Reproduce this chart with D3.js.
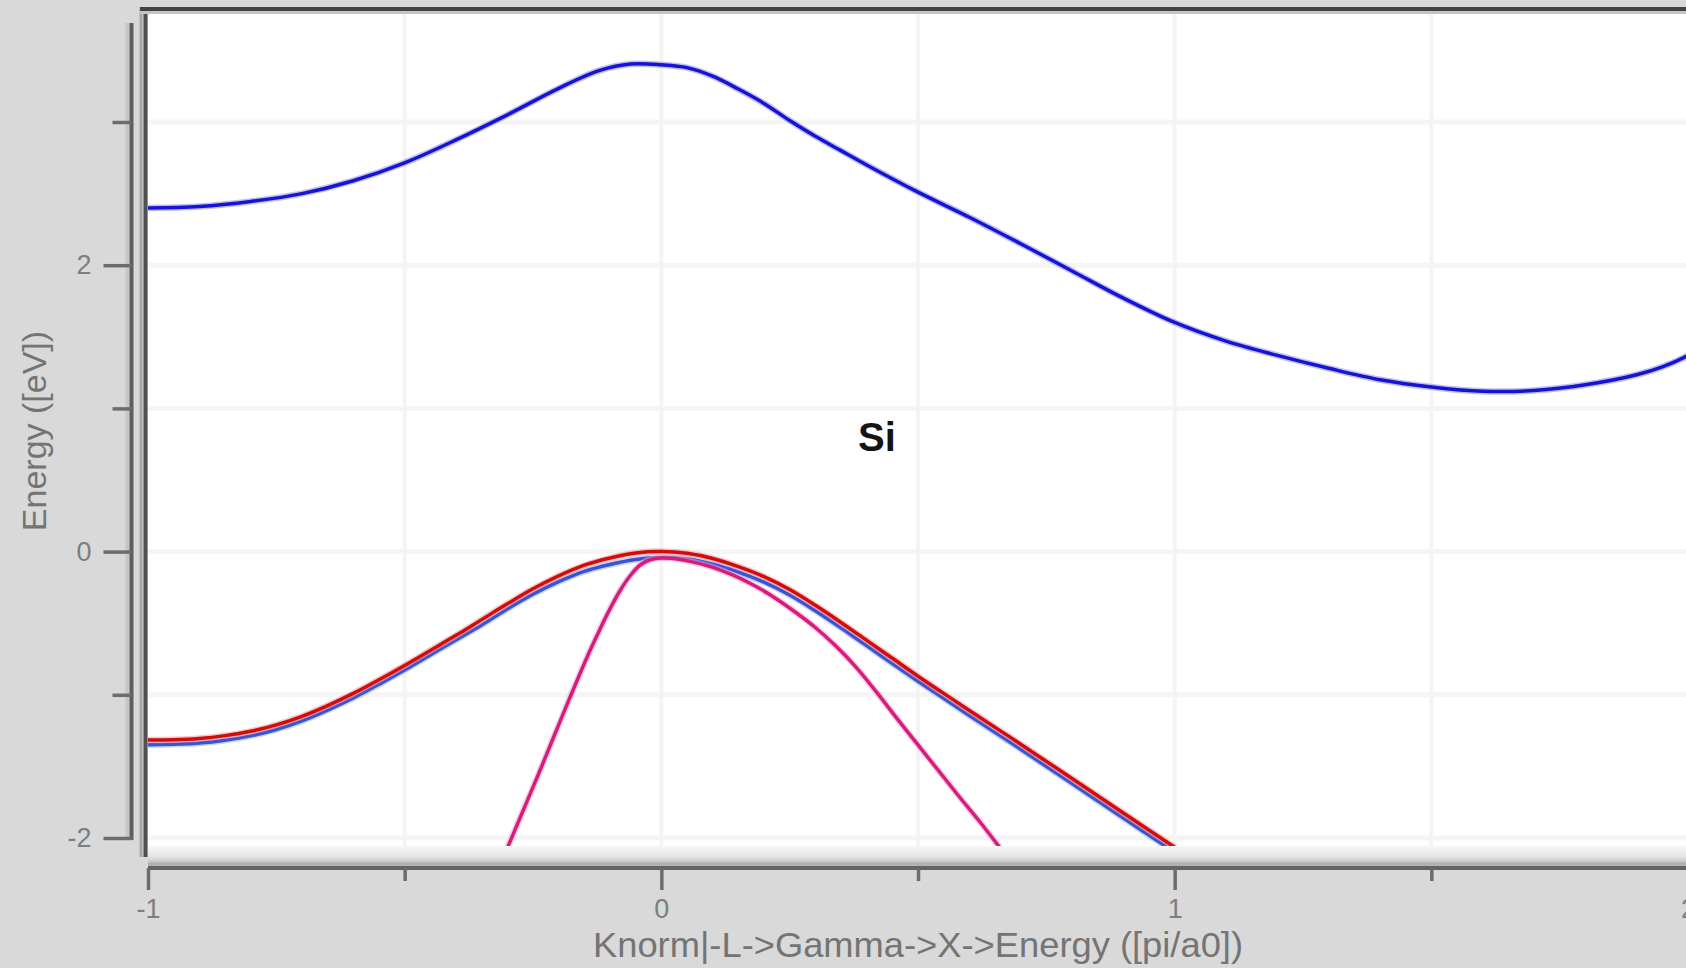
<!DOCTYPE html>
<html>
<head>
<meta charset="utf-8">
<script src="https://cdn.jsdelivr.net/npm/d3@7"></script>
<style>
  html, body { margin: 0; padding: 0; background: #d9d9d9; overflow: hidden; }
  svg { display: block; }
</style>
</head>
<body>
<div id="plot"></div>
<script>
// band energies, [knorm, energy eV]
const conductionBand = [
  [-1.00, 2.40], [-0.90, 2.41], [-0.80, 2.445], [-0.70, 2.50], [-0.60, 2.59],
  [-0.50, 2.715], [-0.40, 2.875], [-0.30, 3.05], [-0.20, 3.235], [-0.12, 3.36],
  [-0.06, 3.405], [0.00, 3.40], [0.05, 3.38], [0.10, 3.32], [0.15, 3.23],
  [0.20, 3.13], [0.25, 3.01], [0.30, 2.90], [0.35, 2.80], [0.40, 2.70],
  [0.50, 2.51], [0.60, 2.335], [0.70, 2.15], [0.80, 1.96], [0.90, 1.77],
  [1.00, 1.60], [1.10, 1.47], [1.20, 1.37], [1.30, 1.28], [1.40, 1.20],
  [1.50, 1.15], [1.60, 1.12], [1.70, 1.125], [1.80, 1.165], [1.90, 1.235],
  [1.95, 1.29], [2.00, 1.37], [2.03, 1.44]
];
const valenceBlue = [
  [-1.00, -1.348], [-0.95, -1.346], [-0.90, -1.337], [-0.85, -1.317], [-0.80, -1.287],
  [-0.75, -1.242], [-0.70, -1.182], [-0.65, -1.107], [-0.60, -1.022], [-0.55, -0.927],
  [-0.50, -0.827], [-0.45, -0.722], [-0.40, -0.617], [-0.35, -0.512], [-0.30, -0.400],
  [-0.25, -0.297], [-0.20, -0.210], [-0.15, -0.138], [-0.10, -0.090], [-0.05, -0.055],
  [0.00, -0.042], [0.05, -0.052], [0.10, -0.088], [0.15, -0.143], [0.20, -0.213],
  [0.25, -0.303], [0.30, -0.413], [0.35, -0.533], [0.40, -0.657], [0.45, -0.782],
  [0.50, -0.905], [0.55, -1.025], [0.60, -1.145], [0.70, -1.380], [0.80, -1.620],
  [0.90, -1.860], [1.00, -2.100]
];
const valenceRed = [
  [-1.00, -1.316], [-0.95, -1.314], [-0.90, -1.305], [-0.85, -1.285], [-0.80, -1.255],
  [-0.75, -1.210], [-0.70, -1.150], [-0.65, -1.075], [-0.60, -0.990], [-0.55, -0.895],
  [-0.50, -0.795], [-0.45, -0.690], [-0.40, -0.585], [-0.35, -0.475], [-0.30, -0.365],
  [-0.25, -0.260], [-0.20, -0.170], [-0.15, -0.095], [-0.10, -0.045], [-0.05, -0.010],
  [0.00, 0.000], [0.05, -0.012], [0.10, -0.048], [0.15, -0.105], [0.20, -0.175],
  [0.25, -0.265], [0.30, -0.375], [0.35, -0.495], [0.40, -0.620], [0.45, -0.745],
  [0.50, -0.870], [0.55, -0.990], [0.60, -1.110], [0.70, -1.345], [0.80, -1.585],
  [0.90, -1.825], [1.00, -2.065]
];
const valenceMagenta = [
  [-0.300, -2.07], [-0.280, -1.90], [-0.260, -1.73], [-0.240, -1.56], [-0.220, -1.385],
  [-0.200, -1.21], [-0.180, -1.035], [-0.160, -0.865], [-0.140, -0.70], [-0.120, -0.545],
  [-0.100, -0.40], [-0.080, -0.27], [-0.060, -0.165], [-0.040, -0.09], [-0.020, -0.055],
  [0.000, -0.045], [0.020, -0.047], [0.060, -0.072], [0.100, -0.11], [0.140, -0.165],
  [0.180, -0.235], [0.220, -0.32], [0.260, -0.42], [0.300, -0.53], [0.340, -0.66],
  [0.380, -0.81], [0.420, -0.985], [0.460, -1.17], [0.500, -1.35], [0.540, -1.53],
  [0.580, -1.71], [0.620, -1.885], [0.660, -2.07]
];

const xMajor = [-1, 0, 1, 2], xMinor = [-0.5, 0.5, 1.5];
const yMajor = [-2, 0, 2], yMinor = [-1, 1, 3];
const xGrid = [-0.5, 0, 0.5, 1, 1.5, 2], yGrid = [-2, -1, 0, 1, 2, 3];
const xTitle = 'Knorm|-L->Gamma->X->Energy ([pi/a0])';
const yTitle = 'Energy ([eV])';
const material = 'Si';

let width = 1686, height = 968;
let font = '"Liberation Sans", Arial, sans-serif';

let x = d3.scaleLinear().domain([-1, 2]).range([148, 1688]);
let y = d3.scaleLinear().domain([-2, 3]).range([838, 122]);

let plotTop = 13, plotBottom = 846, axisX = 131.5, axisY = 868;

let svg = d3.select('#plot').append('svg').attr('width', width).attr('height', height);
svg.append('rect').attr('width', width).attr('height', height).attr('fill', '#d9d9d9');

let defs = svg.append('defs');
let grad = defs.append('linearGradient').attr('id', 'fade').attr('x1', 0).attr('x2', 0).attr('y1', 0).attr('y2', 1);
grad.append('stop').attr('offset', '0%').attr('stop-color', '#f7f7f7');
grad.append('stop').attr('offset', '55%').attr('stop-color', '#e2e2e2');
grad.append('stop').attr('offset', '100%').attr('stop-color', '#b4b4b4');
defs.append('clipPath').attr('id', 'clip').append('rect')
  .attr('x', x(-1)).attr('y', plotTop).attr('width', width - x(-1)).attr('height', plotBottom - plotTop);

// plot area
svg.append('rect').attr('x', x(-1)).attr('y', plotTop).attr('width', width - x(-1)).attr('height', plotBottom - plotTop).attr('fill', '#fff');
svg.append('rect').attr('x', x(-1)).attr('y', plotBottom).attr('width', width - x(-1)).attr('height', axisY - 2 - plotBottom).attr('fill', 'url(#fade)');

let grid = svg.append('g').attr('clip-path', 'url(#clip)');
grid.selectAll('.hg').data(yGrid).enter().append('line')
  .attr('x1', x(-1)).attr('x2', width).attr('y1', d => y(d)).attr('y2', d => y(d))
  .attr('stroke', '#f5f5f5').attr('stroke-width', 5);
grid.selectAll('.vg').data(xGrid).enter().append('line')
  .attr('x1', d => x(d)).attr('x2', d => x(d)).attr('y1', plotTop).attr('y2', plotBottom)
  .attr('stroke', '#f4f4f4').attr('stroke-width', 4);

// frame
svg.append('line').attr('x1', 141).attr('x2', 141).attr('y1', 7).attr('y2', 857).attr('stroke', '#a8a8a8').attr('stroke-width', 3);
svg.append('line').attr('x1', 145.5).attr('x2', 145.5).attr('y1', 7).attr('y2', 857).attr('stroke', '#505050').attr('stroke-width', 4);
svg.append('line').attr('x1', 140).attr('x2', width).attr('y1', 12.5).attr('y2', 12.5).attr('stroke', '#c4c4c4').attr('stroke-width', 3);
svg.append('line').attr('x1', 140).attr('x2', width).attr('y1', 9).attr('y2', 9).attr('stroke', '#434343').attr('stroke-width', 4);

// curves
let line = d3.line().x(d => x(d[0])).y(d => y(d[1])).curve(d3.curveCatmullRom.alpha(0.5));
let curves = svg.append('g').attr('clip-path', 'url(#clip)');
let series = [
  {data: conductionBand, color: '#1414d2', halo: '#8c8cec'},
  {data: valenceBlue, color: '#3a52d6', halo: '#9fb0ee'},
  {data: valenceRed, color: '#d20c0c', halo: '#ee9a9a'},
  {data: valenceMagenta, color: '#d61c7c', halo: '#f0a8cc'}
];
series.forEach(s => {
  curves.append('path').attr('d', line(s.data)).attr('fill', 'none')
    .attr('stroke', s.halo).attr('stroke-width', 6.5).attr('stroke-opacity', 0.55);
  curves.append('path').attr('d', line(s.data)).attr('fill', 'none')
    .attr('stroke', s.color).attr('stroke-width', 3.5);
});

// y axis
svg.append('line').attr('x1', axisX - 4).attr('x2', axisX - 4).attr('y1', 23).attr('y2', y(-2) + 2).attr('stroke', '#c6c6c6').attr('stroke-width', 4);
svg.append('line').attr('x1', axisX).attr('x2', axisX).attr('y1', 23).attr('y2', y(-2) + 2).attr('stroke', '#5e5e5e').attr('stroke-width', 4);

let fmt = d => String(d);
let yAx = svg.append('g').attr('transform', `translate(${axisX},0)`)
  .call(d3.axisLeft(y).tickValues(yMajor).tickFormat(fmt).tickSize(28).tickPadding(12).tickSizeOuter(0));
let yAxMin = svg.append('g').attr('transform', `translate(${axisX},0)`)
  .call(d3.axisLeft(y).tickValues(yMinor).tickSize(19).tickFormat('').tickSizeOuter(0));

// x axis
svg.append('line').attr('x1', x(-1)).attr('x2', width).attr('y1', axisY - 4).attr('y2', axisY - 4).attr('stroke', '#b0b0b0').attr('stroke-width', 3);
svg.append('line').attr('x1', x(-1)).attr('x2', width).attr('y1', axisY).attr('y2', axisY).attr('stroke', '#636363').attr('stroke-width', 4);

let xAx = svg.append('g').attr('transform', `translate(0,${axisY})`)
  .call(d3.axisBottom(x).tickValues(xMajor).tickFormat(fmt).tickSize(22).tickPadding(9).tickSizeOuter(0));
let xAxMin = svg.append('g').attr('transform', `translate(0,${axisY})`)
  .call(d3.axisBottom(x).tickValues(xMinor).tickSize(13).tickFormat('').tickSizeOuter(0));

[yAx, yAxMin, xAx, xAxMin].forEach(a => {
  a.select('.domain').remove();
  a.selectAll('line').attr('stroke', '#6c6c6c').attr('stroke-width', 3.5);
  a.selectAll('text').attr('fill', '#7e7e7e').style('font-family', font).style('font-size', '27px');
});

// titles
svg.append('text').attr('x', 918).attr('y', 957).attr('text-anchor', 'middle')
  .attr('textLength', 650).attr('lengthAdjust', 'spacingAndGlyphs')
  .style('font-family', font).style('font-size', '35px').attr('fill', '#747474').text(xTitle);
svg.append('text').attr('transform', 'translate(46,431) rotate(-90)').attr('text-anchor', 'middle')
  .style('font-family', font).style('font-size', '34px').attr('fill', '#747474').text(yTitle);

svg.append('text').attr('x', x(0.42)).attr('y', 451).attr('text-anchor', 'middle')
  .style('font-family', font).style('font-size', '40px').style('font-weight', 'bold')
  .attr('fill', '#141414').text(material);
</script>
</body>
</html>
